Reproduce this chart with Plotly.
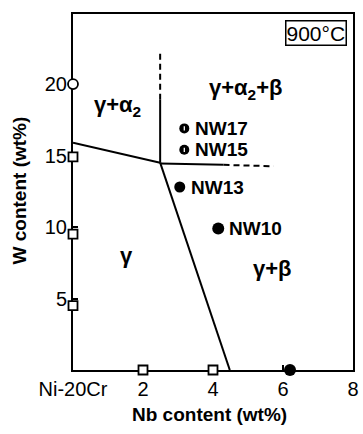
import plotly.graph_objects as go

# ---- data ----
x_tick_vals = [0, 2, 4, 6, 8]
x_tick_text = ["Ni-20Cr", "2", "4", "6", "8"]
y_tick_vals = [5, 10, 15, 20]
y_tick_text = ["5", "10", "15", "20"]

# binary-edge alloys
open_sq_x = [0, 0, 0, 2, 4]
open_sq_y = [14.9, 9.5, 4.5, 0, 0]
open_circ_x = [0]
open_circ_y = [20]
filled_edge_x = [6.2]
filled_edge_y = [0]

# ternary alloys
nw_names = ["NW17", "NW15", "NW13", "NW10"]
nw_x = [3.18, 3.18, 3.05, 4.15]
nw_y = [16.9, 15.4, 12.8, 9.9]
nw_half = [True, True, False, False]

# phase boundaries
b1_x = [0, 2.49]; b1_y = [15.9, 14.5]
b2_x = [2.49, 4.48]; b2_y = [14.5, 0]
b3s_x = [2.49, 2.49]; b3s_y = [14.5, 18.9]
b3d_x = [2.49, 2.49]; b3d_y = [18.9, 22.2]
b4s_x = [2.49, 4.3]; b4s_y = [14.45, 14.35]
b4d_x = [4.3, 5.73]; b4d_y = [14.35, 14.25]

phase_labels = ["γ+α<sub>2</sub>", "γ+α<sub>2</sub>+β", "γ", "γ+β"]
phase_x = [1.26, 4.92, 1.54, 5.7]
phase_y = [18.5, 19.65, 8.0, 7.1]

FONT = "Liberation Sans, Arial, sans-serif"

fig = go.Figure()

def line(xs, ys, dash="solid"):
    fig.add_trace(go.Scatter(x=xs, y=ys, mode="lines",
                             line=dict(color="black", width=2, dash=dash),
                             showlegend=False, hoverinfo="skip"))

line(b1_x, b1_y)
line(b2_x, b2_y)
line(b3s_x, b3s_y)
line(b3d_x, b3d_y, dash="6px,4px")
line(b4s_x, b4s_y)
line(b4d_x, b4d_y, dash="6px,4px")

fig.add_trace(go.Scatter(x=open_sq_x, y=open_sq_y, mode="markers",
                         marker=dict(symbol="square", size=9, color="white", opacity=1,
                                     line=dict(color="black", width=1.8)),
                         showlegend=False, cliponaxis=False))
fig.add_trace(go.Scatter(x=open_circ_x, y=open_circ_y, mode="markers",
                         marker=dict(symbol="circle", size=10, color="white", opacity=1,
                                     line=dict(color="black", width=1.8)),
                         showlegend=False, cliponaxis=False))
fig.add_trace(go.Scatter(x=filled_edge_x, y=filled_edge_y, mode="markers",
                         marker=dict(symbol="circle", size=12, color="black", opacity=1,
                                     line=dict(width=0)),
                         showlegend=False, cliponaxis=False))

fig.add_trace(go.Scatter(x=nw_x, y=nw_y, mode="markers",
                         marker=dict(symbol="circle", size=[10, 10, 11, 12], color="black",
                                     opacity=1, line=dict(width=0)),
                         showlegend=False))
hx = [x for x, h in zip(nw_x, nw_half) if h]
hy = [y for y, h in zip(nw_y, nw_half) if h]
fig.add_trace(go.Scatter(x=hx, y=hy, mode="markers",
                         marker=dict(symbol="line-ns", size=3, opacity=1,
                                     line=dict(color="white", width=1.3)),
                         showlegend=False))

annotations = []
for name, x, y in zip(nw_names, nw_x, nw_y):
    annotations.append(dict(x=x, y=y, text="<b>" + name + "</b>", showarrow=False,
                            xanchor="left", yanchor="middle", xshift=9,
                            font=dict(family=FONT, size=19, color="black")))
for t, x, y in zip(phase_labels, phase_x, phase_y):
    annotations.append(dict(x=x, y=y, text="<b>" + t + "</b>", showarrow=False,
                            xanchor="center", yanchor="middle",
                            font=dict(family=FONT, size=22, color="black")))
annotations.append(dict(x=6.94, y=23.6, text="900°C", showarrow=False,
                        xanchor="center", yanchor="middle",
                        bordercolor="black", borderwidth=1.5, borderpad=0,
                        font=dict(family=FONT, size=21, color="black")))
annotations.append(dict(x=0.486, y=-0.124, xref="paper", yref="paper",
                        text="<b>Nb content (wt%)</b>", showarrow=False,
                        xanchor="center", yanchor="middle",
                        font=dict(family=FONT, size=19, color="black")))
annotations.append(dict(x=-0.192, y=0.505, xref="paper", yref="paper",
                        text="<b>W content (wt%)</b>", showarrow=False, textangle=-90,
                        xanchor="center", yanchor="middle",
                        font=dict(family=FONT, size=19, color="black")))

fig.update_layout(
    width=363, height=434,
    margin=dict(l=73, r=4, t=14, b=64),
    paper_bgcolor="white", plot_bgcolor="white",
    annotations=annotations,
    font=dict(family=FONT, size=20, color="black"),
    showlegend=False,
)
fig.update_xaxes(range=[0, 8], tickvals=x_tick_vals, ticktext=x_tick_text,
                 showgrid=False, zeroline=False, showline=True, linecolor="black",
                 linewidth=2, mirror=True, ticks="inside", ticklen=5,
                 tickcolor="black", tickwidth=1.5, layer="below traces",
                 tickfont=dict(family=FONT, size=20, color="black"))
fig.update_yaxes(range=[0, 24.9], tickvals=y_tick_vals, ticktext=y_tick_text,
                 showgrid=False, zeroline=False, showline=True, linecolor="black",
                 linewidth=2, mirror=True, ticks="inside", ticklen=5,
                 tickcolor="black", tickwidth=1.5, layer="below traces",
                 tickfont=dict(family=FONT, size=20, color="black"))

fig.write_html("out.html")
